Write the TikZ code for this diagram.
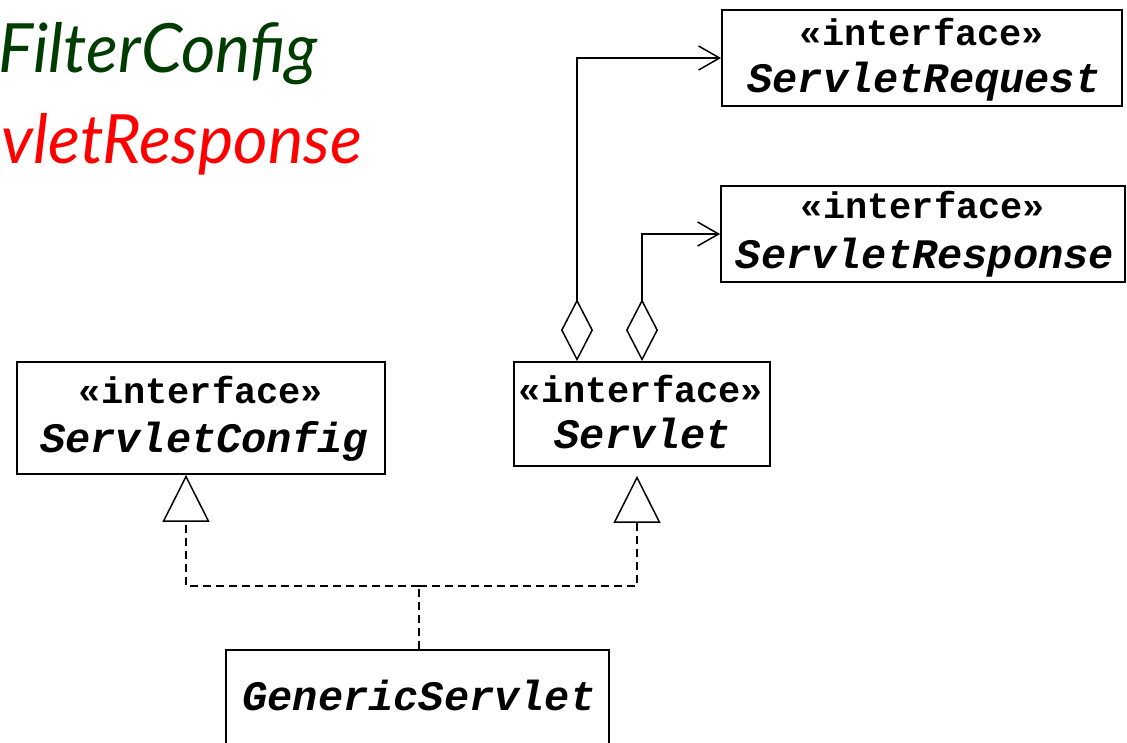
\documentclass[tikz,border=0pt]{standalone}
\usepackage{fontspec}
\setmonofont{Liberation Mono}
\newfontfamily\titlefont{Lato}
\usetikzlibrary{arrows.meta}
\definecolor{titlegreen}{RGB}{0,60,0}
\definecolor{titlered}{RGB}{255,0,0}

\begin{document}
\begin{tikzpicture}[x=1pt,y=-1pt,
  classbox/.style={draw, line width=1.8pt, inner sep=0pt},
  stereo/.style={anchor=base, inner sep=0pt, font=\fontsize{37}{44}\selectfont\ttfamily\bfseries},
  cname/.style={anchor=base, inner sep=0pt, font=\fontsize{42}{50}\selectfont\ttfamily\bfseries\itshape},
  title/.style={anchor=base east, inner sep=0pt, font=\titlefont\itshape\fontsize{68}{80}\selectfont},
  agg/.style={line width=1.5pt,
    {Diamond[open,length=62pt,width=32pt]}-{Straight Barb[length=21pt,width=24pt]}},
  real/.style={line width=1.5pt, dash pattern=on 8pt off 5pt,
    -{Triangle[open,length=47pt,width=47pt,fill=white]}},
]
\useasboundingbox (0,0) rectangle (1127,742);
\clip (0,0) rectangle (1127,742);

% slide titles
\node[title, text=titlegreen] (t1) at (318,72) {\scalebox{0.975}[1]{FilterConfig}};
\node[title, text=titlered] (t2) at (362,163) {\scalebox{0.98}[1]{vletResponse}};

% classes
\node[classbox, minimum width=400pt, minimum height=96pt] (req) at (922,58) {};
\node[stereo] (reqs) at (922,45) {«interface»};
\node[cname] (reqn) at (924,92) {ServletRequest};

\node[classbox, minimum width=404pt, minimum height=96pt] (resp) at (923,234) {};
\node[stereo] (resps) at (923,218) {«interface»};
\node[cname] (respn) at (925,268) {ServletResponse};

\node[classbox, minimum width=256pt, minimum height=104pt] (servlet) at (642,414) {};
\node[stereo] (servlets) at (641,402) {«interface»};
\node[cname] (servletn) at (643,448) {Servlet};

\node[classbox, minimum width=368pt, minimum height=112pt] (cfg) at (201,418) {};
\node[stereo] (cfgs) at (201,403) {«interface»};
\node[cname] (cfgn) at (204,452) {ServletConfig};

\node[classbox, minimum width=383pt, minimum height=140pt] (gen) at (417.5,720) {};
\node[cname] (genn) at (419,710) {GenericServlet};

% aggregations
\draw[agg] ([xshift=-65pt]servlet.north) |- (req.west);
\draw[agg] (servlet.north) |- (resp.west);

% realizations
\coordinate (j) at (419,586);
\draw[line width=1.5pt, dash pattern=on 8pt off 5pt] (gen.north -| j) -- (j);
\draw[real] (j) -| ([xshift=-15pt]cfg.south);
\draw[real] (j) -| ([xshift=-5pt,yshift=-9pt]servlet.south);
\end{tikzpicture}
\end{document}
